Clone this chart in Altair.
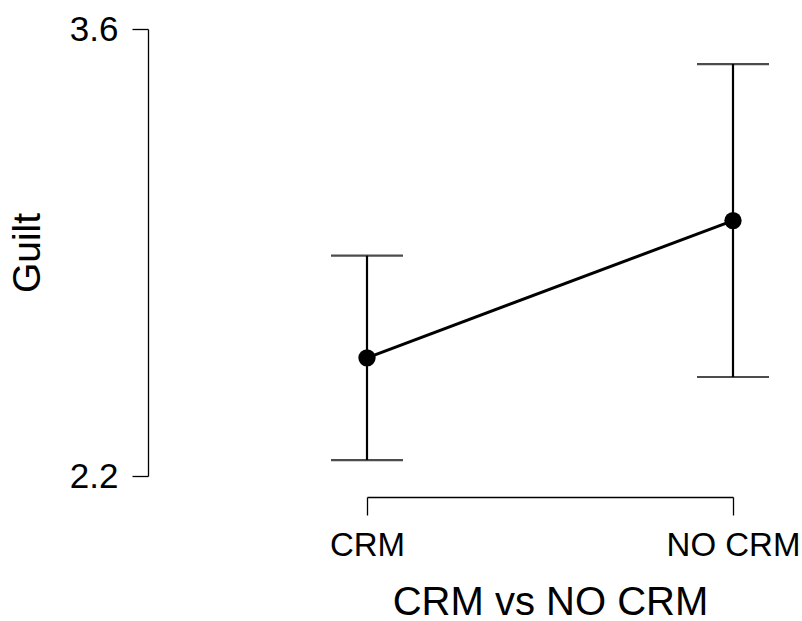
import altair as alt
import pandas as pd

conditions = ["CRM", "NO CRM"]
means = [2.57, 3.00]
ci_lower = [2.25, 2.51]
ci_upper = [2.89, 3.49]
y_ticks = [2.2, 3.6]

df = pd.DataFrame({"cond": conditions, "mean": means, "lo": ci_lower, "hi": ci_upper})

FONT = "Liberation Sans"
x = alt.X("cond:N", scale=alt.Scale(type="point", padding=0, domain=conditions),
          axis=alt.Axis(title="CRM vs NO CRM", labelAngle=0, labelAlign="center", offset=21,
                        tickSize=18, labelPadding=30, titlePadding=20, domainColor="black",
                        tickColor="black", domainWidth=1.3, tickWidth=1.3, labelFontSize=33,
                        titleFontSize=40, labelFont=FONT, titleFont=FONT, labelColor="black",
                        titleColor="black", titleFontWeight="normal", labelFlush=False,
                        grid=False))
y_scale = alt.Scale(domain=[2.2, 3.6], nice=False, zero=False)
y_axis = alt.Axis(title="Guilt", values=y_ticks, format=".1f", offset=219, tickSize=16,
                  labelPadding=14, titleX=-121, titleBaseline="middle", grid=False,
                  domainColor="black", tickColor="black", domainWidth=1.3, tickWidth=1.3,
                  labelFontSize=35, titleFontSize=39, labelFont=FONT, titleFont=FONT,
                  labelColor="black", titleColor="black", titleFontWeight="normal",
                  labelFlush=False)

base = alt.Chart(df)
line = base.mark_line(color="black", strokeWidth=3).encode(
    x=x, y=alt.Y("mean:Q", scale=y_scale, axis=y_axis))
bars = base.mark_rule(color="black", strokeWidth=2.2).encode(
    x="cond:N", y=alt.Y("lo:Q"), y2="hi:Q")
caps_lo = base.mark_tick(color="black", thickness=2.2, size=72, orient="horizontal").encode(
    x="cond:N", y="lo:Q")
caps_hi = base.mark_tick(color="black", thickness=2.2, size=72, orient="horizontal").encode(
    x="cond:N", y="hi:Q")
pts = base.mark_circle(color="black", opacity=1, size=300).encode(x="cond:N", y="mean:Q")

chart = alt.layer(bars, caps_lo, caps_hi, line, pts).properties(
    width=366, height=447,
    autosize=alt.AutoSizeParams(type="none"),
    padding={"left": 367, "top": 29, "right": 69, "bottom": 145},
).configure(background="white").configure_view(stroke=None, strokeWidth=0).configure_axis(grid=False)

chart.save("out.html", embed_options={"renderer": "svg", "actions": False})
